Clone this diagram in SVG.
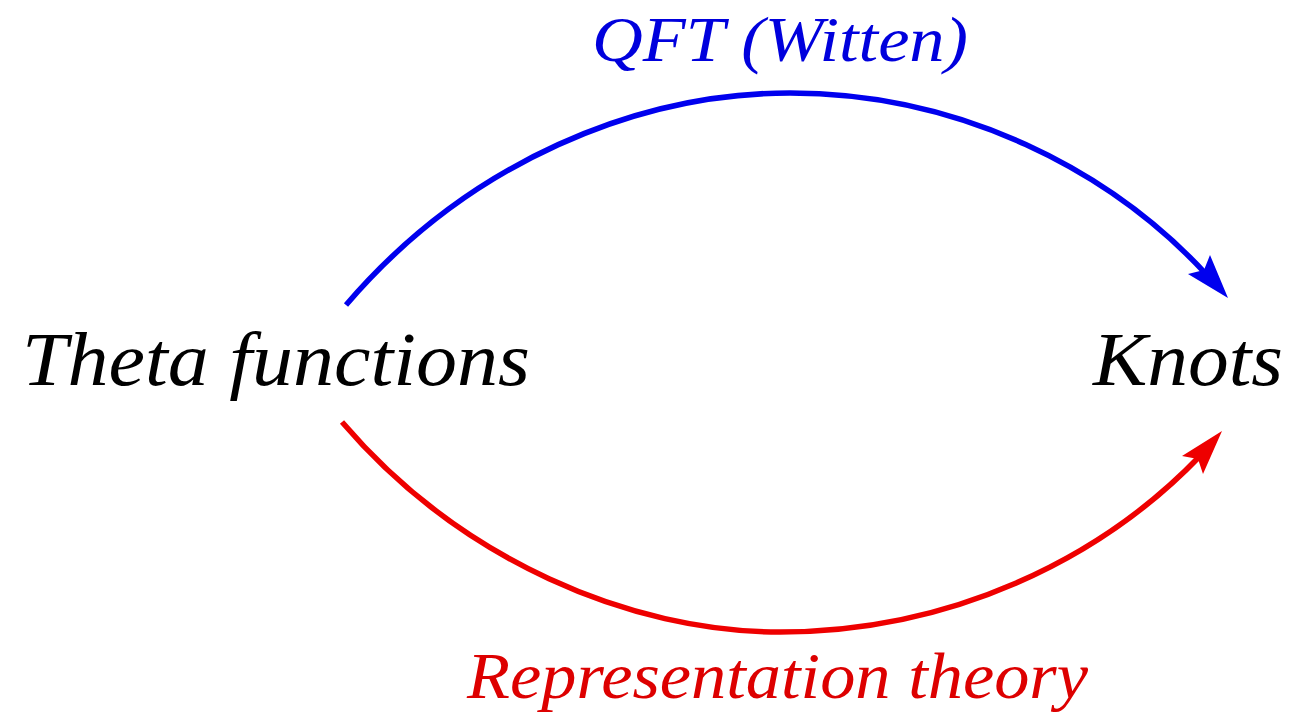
<svg xmlns="http://www.w3.org/2000/svg" width="1294" height="715" viewBox="0 0 1294 715">
<style>
.lbl{font-family:"Liberation Serif","DejaVu Serif",serif;font-style:italic}
.edge{fill:none;stroke-width:5.5}
</style>
<rect width="1294" height="715" fill="#ffffff"/>
<g id="connectors">
<path class="edge" stroke="#0000ee" d="M346,305 C470,160 640,93 790,93 C960,93 1110,170 1206,274"/>
<polygon points="1228,298 1188,274 1204,270 1210,255" fill="#0000ee"/>
<path class="edge" stroke="#ee0000" d="M342,422 C460,560 630,632 780,632 C950,632 1100,560 1200,456"/>
<polygon points="1222,431 1203,474 1198,459 1182,456" fill="#ee0000"/>
</g>
<g id="theta">
<text class="lbl" x="22" y="385" font-size="76" textLength="508" lengthAdjust="spacingAndGlyphs" fill="#000">Theta functions</text>
</g>
<g id="knots">
<text class="lbl" x="1093" y="385" font-size="76" textLength="190" lengthAdjust="spacingAndGlyphs" fill="#000">Knots</text>
</g>
<g id="qft">
<text class="lbl" x="592" y="61" font-size="64" textLength="376" lengthAdjust="spacingAndGlyphs" fill="#0000dd">QFT (Witten)</text>
</g>
<g id="rep">
<text class="lbl" x="467" y="698" font-size="66" textLength="621" lengthAdjust="spacingAndGlyphs" fill="#dd0000">Representation theory</text>
</g>
</svg>
